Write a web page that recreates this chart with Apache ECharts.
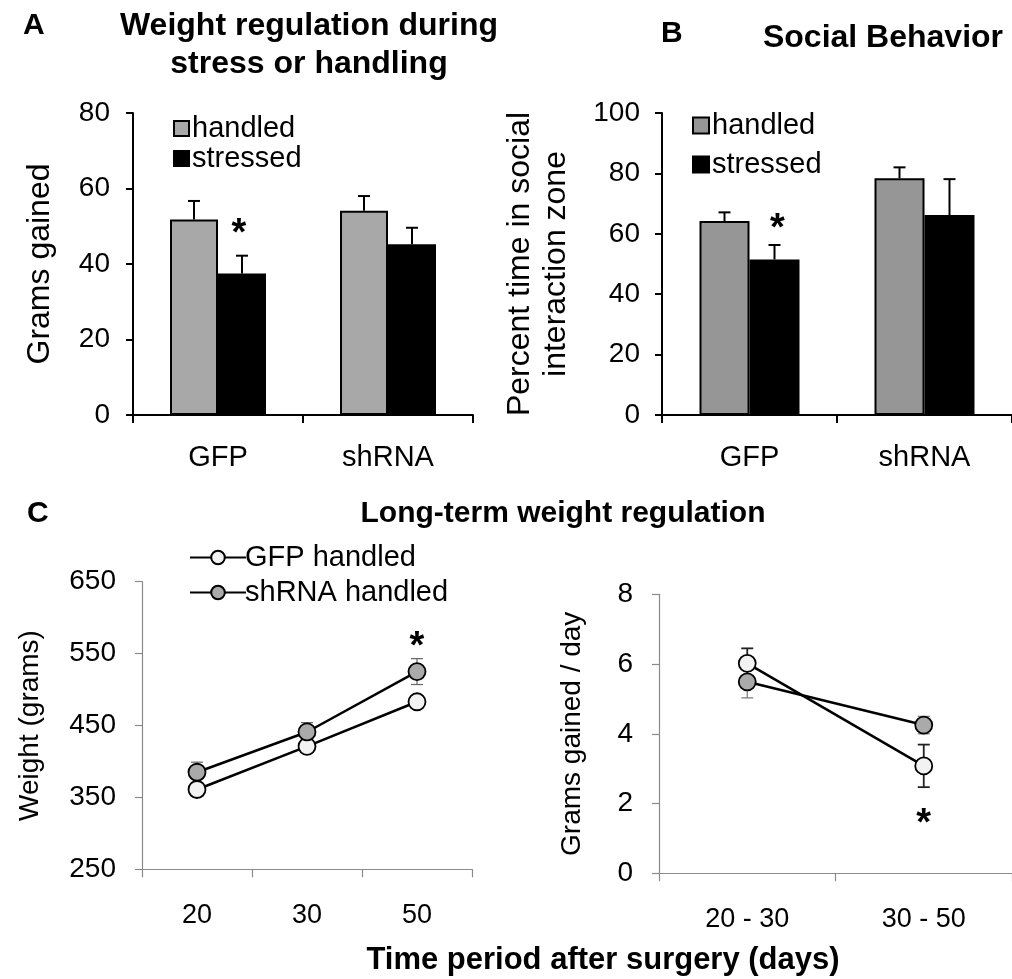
<!DOCTYPE html>
<html>
<head>
<meta charset="utf-8">
<script src="https://cdn.jsdelivr.net/npm/echarts@6/dist/echarts.min.js"></script>
<style>html,body{margin:0;padding:0;background:#fff}#c{width:1012px;height:979px}</style>
</head>
<body>
<div id="c"></div>
<script>
// ---- Data ----
const groupCats = ['GFP', 'shRNA'];
const weightHandled = [51.8, 54.1];
const weightHandledErr = [4.9, 3.9];
const weightStressed = [37.5, 45.2];
const weightStressedErr = [4.7, 4.4];
const socialHandled = [64.2, 78.4];
const socialHandledErr = [2.9, 3.6];
const socialStressed = [51.5, 66.2];
const socialStressedErr = [4.8, 11.9];
const dayCats = ['20', '30', '50'];
const gfpWeight = [361, 421, 483];
const gfpWeightErr = [5, 5, 6];
const shWeight = [385, 441, 525];
const shWeightErr = [14, 13, 18];
const periodCats = ['20 - 30', '30 - 50'];
const gfpRate = [6.02, 3.08];
const gfpRateErr = [0.43, 0.61];
const shRate = [5.49, 4.25];
const shRateErr = [0.46, 0.25];
// significance markers: [category index, value]
const starA = [[0, 50.3]];
const starB = [[0, 64.5]];
const starC1 = [[2, 571]];
const starC2 = [[1, 1.67]];

const FONT = 'Liberation Sans, Arial, sans-serif';
const chart = echarts.init(document.getElementById('c'), null, {renderer: 'canvas'});

function errData(vals, errs) { return vals.map((v, i) => [i, v, errs[i]]); }

function barErr(gridIdx, vals, errs, offset, color) {
  return {
    type: 'custom', xAxisIndex: gridIdx, yAxisIndex: gridIdx, z: 5, silent: true,
    data: errData(vals, errs),
    renderItem: function (params, api) {
      const p1 = api.coord([api.value(0), api.value(1)]);
      const p2 = api.coord([api.value(0), api.value(1) + api.value(2)]);
      const x = p1[0] + offset;
      const st = {stroke: color, lineWidth: 2};
      return {type: 'group', children: [
        {type: 'line', shape: {x1: x, y1: p1[1], x2: x, y2: p2[1]}, style: st},
        {type: 'line', shape: {x1: x - 6, y1: p2[1], x2: x + 6, y2: p2[1]}, style: st}
      ]};
    }
  };
}

function pointErr(gridIdx, vals, errs, color, lw) {
  return {
    type: 'custom', xAxisIndex: gridIdx, yAxisIndex: gridIdx, z: 1, silent: true,
    data: errData(vals, errs),
    renderItem: function (params, api) {
      const pt = api.coord([api.value(0), api.value(1) + api.value(2)]);
      const pb = api.coord([api.value(0), api.value(1) - api.value(2)]);
      const x = pt[0];
      const st = {stroke: color, lineWidth: lw};
      return {type: 'group', children: [
        {type: 'line', shape: {x1: x, y1: pt[1], x2: x, y2: pb[1]}, style: st},
        {type: 'line', shape: {x1: x - 6, y1: pt[1], x2: x + 6, y2: pt[1]}, style: st},
        {type: 'line', shape: {x1: x - 6, y1: pb[1], x2: x + 6, y2: pb[1]}, style: st}
      ]};
    }
  };
}

function stars(gridIdx, data, offset) {
  return {
    type: 'custom', xAxisIndex: gridIdx, yAxisIndex: gridIdx, z: 6, silent: true,
    data: data,
    renderItem: function (params, api) {
      const p = api.coord([api.value(0), api.value(1)]);
      return {type: 'text', style: {text: '*', x: p[0] + offset, y: p[1] + 9,
        fontSize: 38, fontWeight: 'bold', fontFamily: FONT, fill: '#000',
        align: 'center', verticalAlign: 'middle'}};
    }
  };
}

const blackAxis = {lineStyle: {color: '#000', width: 2}};
const grayAxis = {lineStyle: {color: '#8a8a8a', width: 1.2}};

function yAxis(gridIdx, min, max, interval, name, gap, isBlack, margin, nameSize, nameLH, lblSize) {
  return {
    type: 'value', gridIndex: gridIdx, min: min, max: max, interval: interval,
    name: name, nameLocation: 'middle', nameRotate: 90, nameGap: gap,
    nameTextStyle: {color: '#000', fontSize: nameSize, fontFamily: FONT, lineHeight: nameLH},
    axisLine: Object.assign({show: true}, isBlack ? blackAxis : grayAxis),
    axisTick: {show: true, inside: false, length: 7, lineStyle: isBlack ? {color: '#000', width: 2} : {color: '#8a8a8a', width: 1.2}},
    axisLabel: {margin: margin, color: '#000', fontSize: lblSize, fontFamily: FONT},
    splitLine: {show: false}
  };
}
function xAxis(gridIdx, cats, isBlack, margin, lblSize) {
  return {
    type: 'category', gridIndex: gridIdx, data: cats, boundaryGap: true,
    axisLine: Object.assign({show: true, onZero: false}, isBlack ? blackAxis : grayAxis),
    axisTick: {show: true, inside: false, length: 8, lineStyle: isBlack ? {color: '#000', width: 2} : {color: '#8a8a8a', width: 1.2}},
    axisLabel: {margin: margin, color: '#000', fontSize: lblSize, fontFamily: FONT},
    splitLine: {show: false}
  };
}

const titleStyle = (s, lh) => ({fontSize: s, fontWeight: 'bold', color: '#000', fontFamily: FONT, lineHeight: lh || s});

const option = {
  backgroundColor: '#fff',
  animation: false,
  textStyle: {fontFamily: FONT},
  title: [
    {text: 'A', left: 18, top: 6, textStyle: titleStyle(30)},
    {text: 'Weight regulation during\nstress or handling', left: 304, top: 2, textAlign: 'center',
     textStyle: titleStyle(32, 38)},
    {text: 'B', left: 656, top: 14, textStyle: titleStyle(30)},
    {text: 'Social Behavior', left: 878, top: 17, textAlign: 'center', textStyle: titleStyle(32)},
    {text: 'C', left: 22, top: 494, textStyle: titleStyle(30)},
    {text: 'Long-term weight regulation', left: 558, top: 494, textAlign: 'center', textStyle: titleStyle(30)},
    {text: 'Time period after surgery (days)', left: 598, top: 940, textAlign: 'center', textStyle: titleStyle(31)}
  ],
  legend: [
    {data: ['handled', 'stressed'], orient: 'vertical', left: 168, top: 109,
     itemWidth: 15, itemHeight: 15, itemGap: 1, icon: 'rect',
     textStyle: {fontSize: 29, color: '#000', fontFamily: FONT, padding: [0, 0, 0, -2]},
     selectedMode: false},
    {data: ['handled ', 'stressed '], orient: 'vertical', left: 687, top: 106,
     itemWidth: 16, itemHeight: 16, itemGap: 10, icon: 'rect',
     textStyle: {fontSize: 29, color: '#000', fontFamily: FONT, padding: [0, 0, 0, -2]},
     selectedMode: false},
    {data: ['GFP handled', 'shRNA handled'], orient: 'vertical', left: 184, top: 538,
     itemWidth: 56, itemHeight: 17, itemGap: 6,
     textStyle: {fontSize: 29, color: '#000', fontFamily: FONT, padding: [0, 0, 0, -6]},
     selectedMode: false}
  ],
  grid: [
    {left: 133, top: 113, width: 340, height: 302},
    {left: 662, top: 113, width: 360, height: 302},
    {left: 142, top: 581.7, width: 330, height: 287.6},
    {left: 659, top: 594.3, width: 354, height: 279}
  ],
  xAxis: [
    xAxis(0, groupCats, true, 28, 29),
    xAxis(1, groupCats, true, 28, 29),
    xAxis(2, dayCats, false, 33, 27),
    xAxis(3, periodCats, false, 33, 27)
  ],
  yAxis: [
    yAxis(0, 0, 80, 20, 'Grams gained', 77, true, 23, 32, 32, 28),
    yAxis(1, 0, 100, 20, 'Percent time in social\ninteraction zone', 88, true, 22, 32, 36, 28),
    yAxis(2, 250, 650, 100, 'Weight (grams)', 98, false, 26, 28, 28, 28),
    yAxis(3, 0, 8, 2, 'Grams gained / day', 73, false, 26, 28, 28, 28)
  ],
  series: [
    {name: 'handled', type: 'bar', xAxisIndex: 0, yAxisIndex: 0, data: weightHandled,
     barWidth: 48, barGap: '0%', itemStyle: {color: '#a8a8a8', borderColor: '#000', borderWidth: 2}},
    {name: 'stressed', type: 'bar', xAxisIndex: 0, yAxisIndex: 0, data: weightStressed,
     barWidth: 48, barGap: '0%', itemStyle: {color: '#000', borderColor: '#000', borderWidth: 2}},
    barErr(0, weightHandled, weightHandledErr, -24, '#000'),
    barErr(0, weightStressed, weightStressedErr, 24, '#000'),
    stars(0, starA, 21),

    {name: 'handled ', type: 'bar', xAxisIndex: 1, yAxisIndex: 1, data: socialHandled,
     barWidth: 50, barGap: '0%', itemStyle: {color: '#969696', borderColor: '#000', borderWidth: 2}},
    {name: 'stressed ', type: 'bar', xAxisIndex: 1, yAxisIndex: 1, data: socialStressed,
     barWidth: 50, barGap: '0%', itemStyle: {color: '#000', borderColor: '#000', borderWidth: 2}},
    barErr(1, socialHandled, socialHandledErr, -25, '#000'),
    barErr(1, socialStressed, socialStressedErr, 25, '#000'),
    stars(1, starB, 28),

    pointErr(2, gfpWeight, gfpWeightErr, '#666', 1.2),
    pointErr(2, shWeight, shWeightErr, '#666', 1.2),
    {name: 'GFP handled', type: 'line', xAxisIndex: 2, yAxisIndex: 2, data: gfpWeight, z: 3,
     symbol: 'circle', symbolSize: 17, lineStyle: {color: '#000', width: 2.5},
     itemStyle: {color: '#f2f2f2', borderColor: '#000', borderWidth: 1.8}},
    {name: 'shRNA handled', type: 'line', xAxisIndex: 2, yAxisIndex: 2, data: shWeight, z: 4,
     symbol: 'circle', symbolSize: 17, lineStyle: {color: '#000', width: 2.5},
     itemStyle: {color: '#aaaaaa', borderColor: '#000', borderWidth: 1.8}},
    stars(2, starC1, 0),

    pointErr(3, gfpRate, gfpRateErr, '#222', 1.8),
    pointErr(3, shRate, shRateErr, '#777', 1.2),
    {name: 'GFP handled', type: 'line', xAxisIndex: 3, yAxisIndex: 3, data: gfpRate, z: 3,
     symbol: 'circle', symbolSize: 17, lineStyle: {color: '#000', width: 2.5},
     itemStyle: {color: '#f2f2f2', borderColor: '#000', borderWidth: 1.8}},
    {name: 'shRNA handled', type: 'line', xAxisIndex: 3, yAxisIndex: 3, data: shRate, z: 4,
     symbol: 'circle', symbolSize: 17, lineStyle: {color: '#000', width: 2.5},
     itemStyle: {color: '#aaaaaa', borderColor: '#000', borderWidth: 1.8}},
    stars(3, starC2, 0)
  ]
};
chart.setOption(option);
</script>
</body>
</html>
